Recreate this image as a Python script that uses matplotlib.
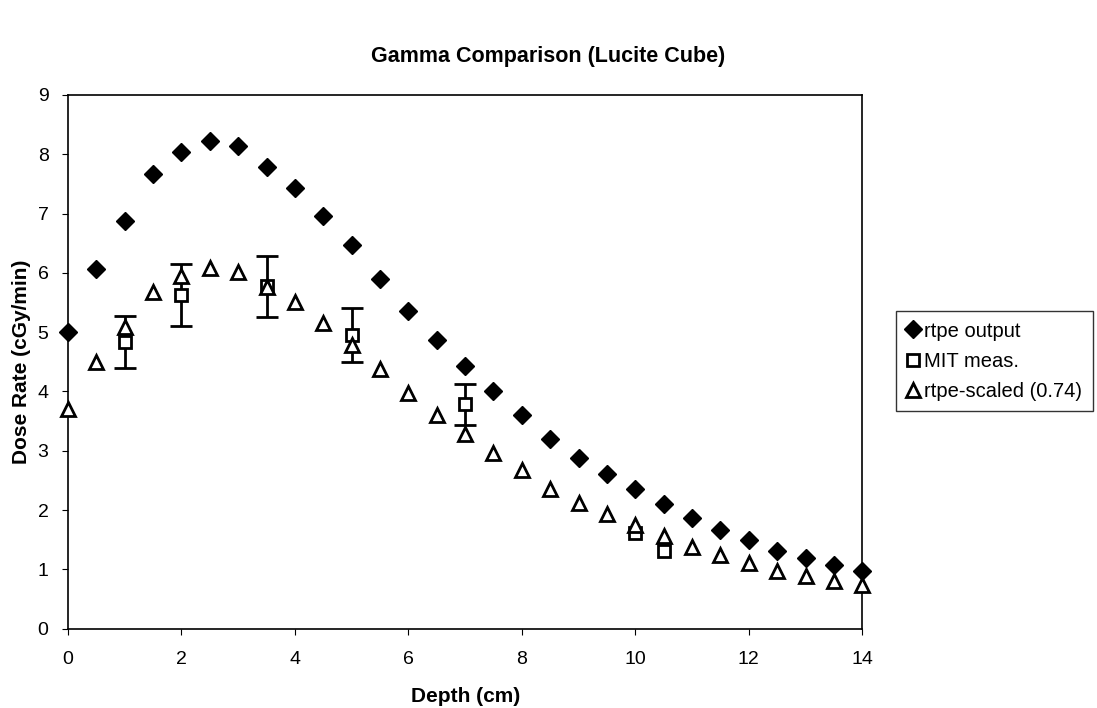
import numpy as np
import matplotlib.pyplot as plt
from matplotlib.lines import Line2D

plt.rcParams['font.family'] = ['Liberation Sans', 'DejaVu Sans']

depth = np.arange(0, 14.5, 0.5)
rtpe = [5.00, 6.07, 6.88, 7.67, 8.04, 8.22, 8.14, 7.79, 7.43, 6.96,
        6.47, 5.90, 5.36, 4.87, 4.43, 4.01, 3.61, 3.19, 2.87, 2.61,
        2.36, 2.11, 1.87, 1.67, 1.50, 1.31, 1.20, 1.08, 0.98]
scaled = [3.70, 4.49, 5.09, 5.68, 5.95, 6.08, 6.02, 5.76, 5.50, 5.15,
          4.79, 4.37, 3.97, 3.60, 3.28, 2.97, 2.67, 2.36, 2.12, 1.93,
          1.75, 1.56, 1.38, 1.24, 1.11, 0.97, 0.89, 0.80, 0.73]

mit_x = [1, 2, 3.5, 5, 7, 10, 10.5]
mit_y = [4.84, 5.63, 5.77, 4.95, 3.78, 1.62, 1.31]
mit_err = [0.44, 0.52, 0.52, 0.45, 0.34, 0.0, 0.0]

fig = plt.figure(figsize=(10.97, 7.08), dpi=100)
ax = fig.add_axes([0.062, 0.112, 0.724, 0.754])

ax.plot(depth, rtpe, 'D', color='black', ms=9, ls='none', clip_on=False, zorder=3)
# only the points that have an error bar
has_err = [i for i, e in enumerate(mit_err) if e > 0]
ax.errorbar([mit_x[i] for i in has_err], [mit_y[i] for i in has_err],
            yerr=[mit_err[i] for i in has_err], fmt='none', ecolor='black',
            elinewidth=2, capsize=8, capthick=2, zorder=3)
ax.plot(mit_x, mit_y, 's', mfc='white', mec='black', mew=2, ms=9, ls='none', zorder=4)
ax.plot(depth, scaled, '^', mfc='white', mec='black', mew=2, ms=10, ls='none',
        clip_on=False, zorder=5)

ax.set_xlim(0, 14)
ax.set_ylim(0, 9)
ax.set_xticks(range(0, 15, 2))
ax.set_yticks(range(0, 10))
ax.tick_params(labelsize=14, direction='out', length=4)
ax.tick_params(axis='x', pad=12)
ax.tick_params(axis='y', pad=10)
for s in ax.spines.values():
    s.set_linewidth(1.2)

ax.set_xlabel('Depth (cm)', fontsize=15, fontweight='bold', labelpad=14)
ax.set_ylabel('Dose Rate (cGy/min)', fontsize=15, fontweight='bold', labelpad=5)
fig.suptitle('Gamma Comparison (Lucite Cube)', fontsize=15.5, fontweight='bold', y=0.935)

handles = [
    Line2D([], [], marker='D', color='black', ls='none', ms=9),
    Line2D([], [], marker='s', mfc='white', mec='black', mew=2, ls='none', ms=9),
    Line2D([], [], marker='^', mfc='white', mec='black', mew=2, ls='none', ms=10),
]
labels = ['rtpe output', 'MIT meas.', 'rtpe-scaled (0.74)']
leg = fig.legend(handles, labels, loc='center left', bbox_to_anchor=(0.817, 0.49),
                 fontsize=14.5, frameon=True, fancybox=False, edgecolor='black',
                 handlelength=0.7, handletextpad=0.2, borderpad=0.5, labelspacing=0.55,
                 borderaxespad=0)
leg.get_frame().set_linewidth(1)

fig.savefig('out.png', dpi=100)
